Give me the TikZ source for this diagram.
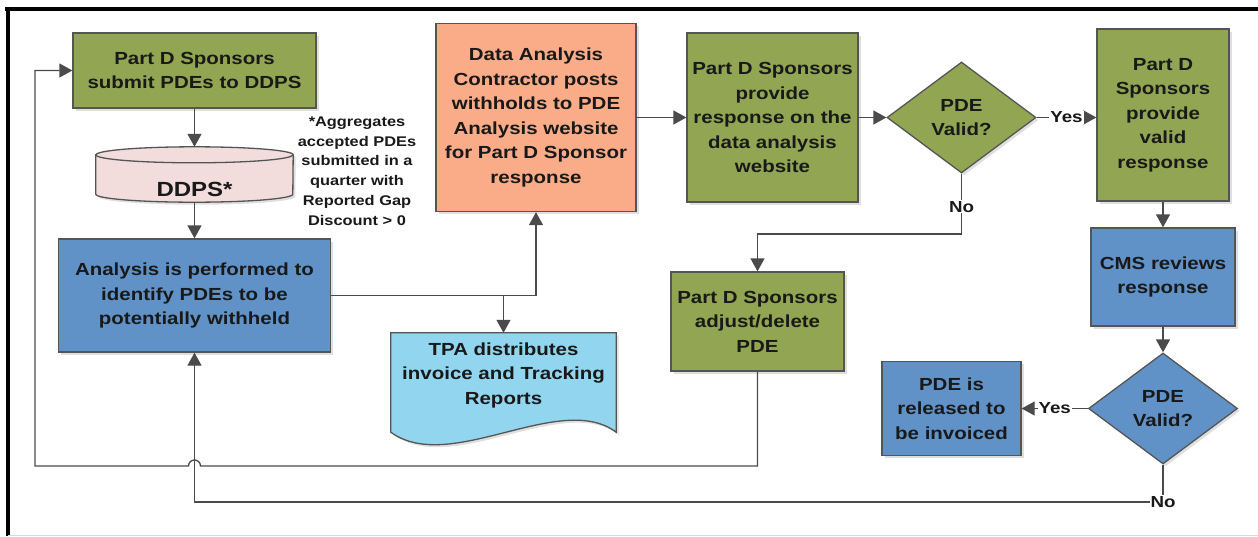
\documentclass[tikz,border=0pt]{standalone}
\usepackage{fontspec}
\setmainfont{Liberation Sans}[FakeStretch=1.17]
\usetikzlibrary{arrows.meta,shapes.geometric,shadows,calc}

\definecolor{pdgreen}{RGB}{145,165,83}
\definecolor{cmsblue}{RGB}{96,146,199}
\definecolor{salmon}{RGB}{250,172,136}
\definecolor{dbpink}{RGB}{242,221,220}
\definecolor{docblue}{RGB}{146,213,238}
\definecolor{edge}{RGB}{85,85,85}
\definecolor{wire}{RGB}{75,75,75}
\definecolor{txt}{RGB}{25,25,25}

\begin{document}
\begin{tikzpicture}[x=1pt, y=-1pt,
  every node/.style={font=\fontsize{17.5}{24.5}\selectfont\bfseries, text=txt, align=center},
  box/.style={draw=edge, line width=1.3pt, inner sep=0pt,
    drop shadow={shadow xshift=2.5pt, shadow yshift=-2.5pt, opacity=.25}},
  dec/.style={diamond, box, aspect=1.34, minimum width=149pt, minimum height=111pt},
  conn/.style={draw=wire, line width=1.3pt, -{Triangle[length=13pt,width=14pt]}},
  lbl/.style={fill=white, inner sep=1pt, font=\fontsize{16}{18}\selectfont\bfseries}]
  \useasboundingbox (0,0) rectangle (1258,536);

  % frame
  \draw[line width=4.5pt] (5,9) -- (1258,9);
  \draw[line width=4.5pt] (8,7) -- (8,536);
  \draw[black!15, line width=1pt] (8,535) -- (1258,535);

  % left column
  \node[box, fill=pdgreen, minimum width=243pt, minimum height=75pt] (sub) at (194.5,70.5) {Part D Sponsors\\submit PDEs to DDPS};
  \node[inner sep=0pt, minimum width=197pt, minimum height=55pt] (ddps) at (194.5,174.5) {};
  \draw[draw=edge, line width=1.3pt, fill=dbpink, drop shadow={shadow xshift=2.5pt, shadow yshift=-2.5pt, opacity=.25}]
    ([yshift=-8pt]ddps.north west) -- ([yshift=8pt]ddps.south west)
    arc[start angle=180, end angle=360, x radius=98.5pt, y radius=8pt]
    -- ([yshift=-8pt]ddps.north east)
    arc[start angle=0, end angle=180, x radius=98.5pt, y radius=8pt] -- cycle;
  \draw[draw=edge, line width=1.3pt] ([yshift=-8pt]ddps.north west)
    arc[start angle=180, end angle=360, x radius=98.5pt, y radius=8pt];
  \node[font=\fontsize{20.5}{24}\selectfont\bfseries] (ddpstxt) at (194.5,189.5) {DDPS*};
  \node[font=\fontsize{14}{19.7}\selectfont\bfseries] (note) at (357,171) {*Aggregates\\accepted PDEs\\submitted in a\\quarter with\\Reported Gap\\Discount > 0};
  \node[box, fill=cmsblue, minimum width=272pt, minimum height=113pt] (ana) at (194.5,295.5) {Analysis is performed to\\identify PDEs to be\\potentially withheld};

  % middle
  \node[box, fill=salmon, minimum width=200pt, minimum height=188pt] (dac) at (536,117.5) {Data Analysis\\Contractor posts\\withholds to PDE\\Analysis website\\for Part D Sponsor\\response};
  \node[inner sep=0pt, minimum width=225pt, minimum height=84pt] (tpa) at (503.5,375) {};
  \node[box, fill=pdgreen, minimum width=171pt, minimum height=169pt] (resp) at (772.5,117.5) {Part D Sponsors\\provide\\response on the\\data analysis\\website};
  \node[dec, fill=pdgreen] (dec1) at (961.5,117.5) {PDE\\Valid?};
  \node[box, fill=pdgreen, minimum width=173pt, minimum height=99pt] (adj) at (757.5,321.5) {Part D Sponsors\\adjust/delete\\PDE};

  % right column
  \node[box, fill=pdgreen, minimum width=132pt, minimum height=172pt] (valid) at (1163,115) {Part D\\Sponsors\\provide\\valid\\response};
  \node[box, fill=cmsblue, minimum width=144pt, minimum height=98pt] (cms) at (1163,277) {CMS reviews\\response};
  \node[dec, fill=cmsblue] (dec2) at (1163,408.5) {PDE\\Valid?};
  \node[box, fill=cmsblue, minimum width=139pt, minimum height=94pt] (rel) at (951.5,408.5) {PDE is\\released to\\be invoiced};

  \coordinate (midrail) at (0,234);
  \coordinate (lowrail) at (0,466);
  \coordinate (botrail) at (0,502);
  \coordinate (leftrail) at (35,0);

  % connectors
  \draw[conn] (sub.south) -- (ddps.north);
  \draw[conn] (ddps.south) -- (ana.north);
  \draw[conn] (ana.east) -| (dac.south);
  \draw[conn] (ana.east -| tpa.north) -- (tpa.north);
  \draw[conn] (dac.east) -- (resp.west);
  \draw[conn] (resp.east) -- (dec1.west);
  \draw[conn] (dec1.east) -- node[lbl]{Yes} (dec1.east -| valid.west);
  \draw[conn] (dec1.south) -- node[lbl, pos=.55]{No} (dec1.south |- midrail) -| (adj.north);
  \draw[conn] (valid.south) -- (cms.north);
  \draw[conn] (cms.south) -- (dec2.north);
  \draw[conn] (dec2.west) -- node[lbl]{Yes} (rel.east);
  \draw[conn] (dec2.south) -- (dec2.south |- botrail) -| (ana.south);
  \node[lbl] (no2) at (dec2.south |- botrail) {No};
  \draw[conn] (adj.south) -- (adj.south |- lowrail) -- ($(ana.south |- lowrail)+(6,0)$)
    arc[start angle=0, end angle=180, radius=6pt] -- (leftrail |- lowrail) |- (sub.west);

  % document outline
  \draw[draw=edge, line width=1.3pt, fill=docblue, drop shadow={shadow xshift=2.5pt, shadow yshift=-2.5pt, opacity=.25}]
    (tpa.north west) -- (tpa.north east) -- ($(tpa.south east)+(0,15)$)
    .. controls ($(tpa.south)+(56.5,-27)$) and ($(tpa.south)+(-53.5,58)$) .. ($(tpa.south west)+(0,15)$) -- cycle;
  \node[inner sep=0pt] (tpatxt) at (tpa.center) {TPA distributes\\invoice and Tracking\\Reports};
\end{tikzpicture}
\end{document}
